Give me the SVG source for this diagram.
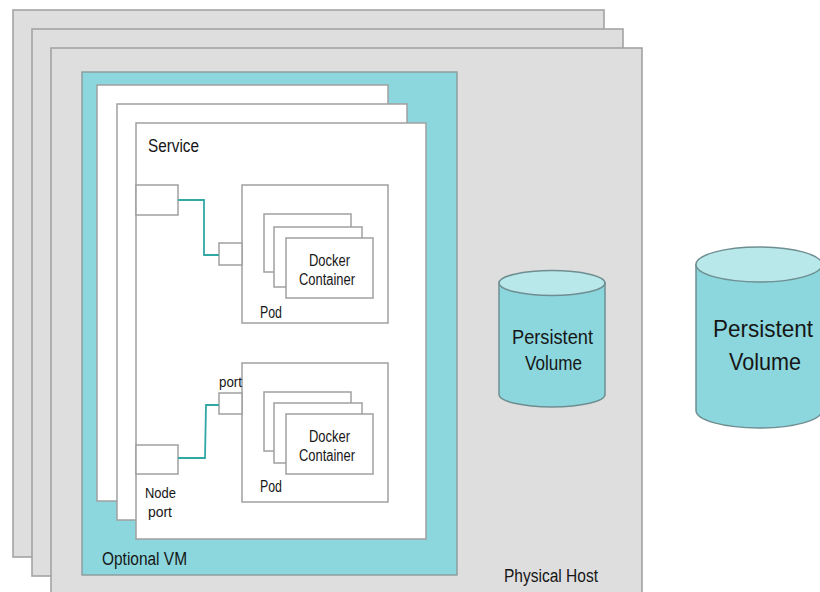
<svg xmlns="http://www.w3.org/2000/svg" width="820" height="592" viewBox="0 0 820 592">
<style>
.host{fill:#dedede;stroke:#a3a3a3;stroke-width:1.6}
.vm{fill:#8bd7dd;stroke:#8a9a9c;stroke-width:1.4}
.box{fill:#ffffff;stroke:#a0a0a0;stroke-width:1.5}
.cyl{fill:#8bd7dd;stroke:#6f8e91;stroke-width:1.5}
.cyltop{fill:#b9e8eb;stroke:#6f8e91;stroke-width:1.5}
.link{fill:none;stroke:#31a8a4;stroke-width:1.8}
text{font-family:"Liberation Sans",Arial,sans-serif;fill:#161616}
</style>
<rect width="820" height="592" fill="#ffffff"/>
<g id="hosts">
<rect class="host" x="13" y="10" width="591" height="547"/>
<rect class="host" x="32" y="29" width="591" height="547"/>
<rect class="host" x="51" y="48" width="591" height="560"/>
<text x="504" y="582" font-size="18" textLength="94" lengthAdjust="spacingAndGlyphs">Physical Host</text>
</g>
<g id="vm">
<rect class="vm" x="82" y="72" width="375" height="503"/>
<text x="102" y="565" font-size="18" textLength="85" lengthAdjust="spacingAndGlyphs">Optional VM</text>
</g>
<g id="services">
<rect class="box" x="97" y="85" width="291" height="416"/>
<rect class="box" x="117" y="104" width="290" height="416"/>
<rect class="box" x="136" y="123" width="290" height="416"/>
<text x="148" y="152" font-size="18" textLength="51" lengthAdjust="spacingAndGlyphs">Service</text>
</g>
<g id="pod1">
<rect class="box" x="242" y="185" width="146" height="138"/>
<rect class="box" x="264" y="214" width="87" height="58"/>
<rect class="box" x="274" y="227" width="88" height="60"/>
<rect class="box" x="286" y="238" width="87" height="60"/>
<text x="329.5" y="266" font-size="16" text-anchor="middle" textLength="41" lengthAdjust="spacingAndGlyphs">Docker</text>
<text x="327" y="285" font-size="16" text-anchor="middle" textLength="56" lengthAdjust="spacingAndGlyphs">Container</text>
<text x="260" y="318" font-size="16" textLength="22" lengthAdjust="spacingAndGlyphs">Pod</text>
</g>
<g id="pod2">
<rect class="box" x="242" y="363" width="146" height="139"/>
<rect class="box" x="264" y="392" width="87" height="59"/>
<rect class="box" x="274" y="403" width="88" height="60"/>
<rect class="box" x="286" y="414" width="87" height="60"/>
<text x="329.5" y="442" font-size="16" text-anchor="middle" textLength="41" lengthAdjust="spacingAndGlyphs">Docker</text>
<text x="327" y="461" font-size="16" text-anchor="middle" textLength="56" lengthAdjust="spacingAndGlyphs">Container</text>
<text x="260" y="492" font-size="16" textLength="22" lengthAdjust="spacingAndGlyphs">Pod</text>
</g>
<g id="service-port1">
<rect class="box" x="136" y="185" width="42" height="30"/>
</g>
<g id="pod-port1">
<rect class="box" x="219" y="243" width="23" height="22"/>
</g>
<g id="node-port">
<rect class="box" x="136" y="445" width="42" height="29"/>
<text x="160.5" y="498" font-size="15" text-anchor="middle" textLength="31" lengthAdjust="spacingAndGlyphs">Node</text>
<text x="160" y="517" font-size="15" text-anchor="middle" textLength="24" lengthAdjust="spacingAndGlyphs">port</text>
</g>
<g id="pod-port2">
<rect class="box" x="219" y="393" width="23" height="21"/>
<text x="219" y="387" font-size="14" textLength="23" lengthAdjust="spacingAndGlyphs">port</text>
</g>
<g id="connectors">
<polyline class="link" points="178,200 204,200 204,255 219,255"/>
<polyline class="link" points="178,458 205,458 206,405 219,405"/>
</g>
<g id="volume-inner">
<path class="cyl" d="M499,283 L499,394.5 A53,12.5 0 0 0 605,394.5 L605,283 Z"/>
<ellipse class="cyltop" cx="552" cy="283" rx="53" ry="12.5"/>
<text x="552.5" y="344" font-size="20" text-anchor="middle" textLength="81" lengthAdjust="spacingAndGlyphs">Persistent</text>
<text x="553.5" y="370" font-size="20" text-anchor="middle" textLength="57" lengthAdjust="spacingAndGlyphs">Volume</text>
</g>
<g id="volume-outer">
<path class="cyl" d="M696,264.5 L696,410.5 A63,17.5 0 0 0 822,410.5 L822,264.5 Z"/>
<ellipse class="cyltop" cx="759" cy="264.5" rx="63" ry="17.5"/>
<text x="763" y="337" font-size="24" text-anchor="middle" textLength="100" lengthAdjust="spacingAndGlyphs">Persistent</text>
<text x="765" y="370" font-size="24" text-anchor="middle" textLength="72" lengthAdjust="spacingAndGlyphs">Volume</text>
</g>
</svg>
